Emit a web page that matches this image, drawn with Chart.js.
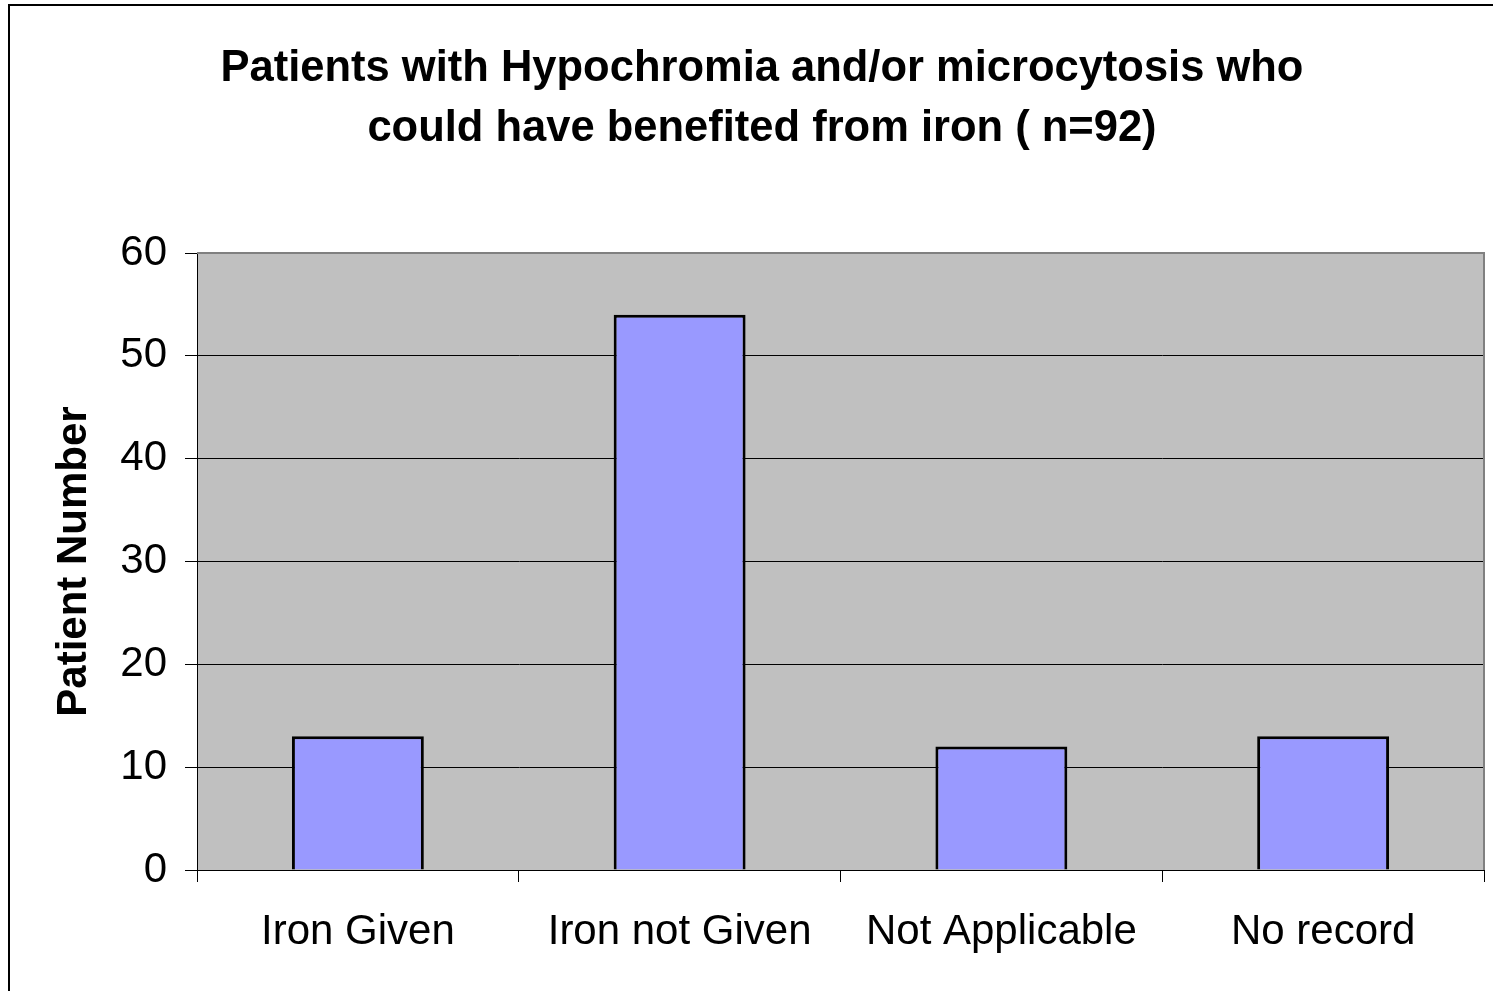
<!DOCTYPE html>
<html>
<head>
<meta charset="utf-8">
<script src="https://cdn.jsdelivr.net/npm/chart.js@4.4.1/dist/chart.umd.min.js"></script>
<style>
  html, body { margin: 0; padding: 0; background: #fff; }
  #wrap { position: relative; width: 1493px; height: 991px; overflow: hidden; }
  #frame { position: absolute; left: 8px; top: 4px; width: 1600px; height: 1100px;
           border-left: 2px solid #000; border-top: 2px solid #000; pointer-events: none; }
</style>
</head>
<body>
<div id="wrap">
  <canvas id="chart" width="1493" height="991"></canvas>
  <div id="frame"></div>
</div>
<script>
// data
const categories = ['Iron Given', 'Iron not Given', 'Not Applicable', 'No record'];
const patients = [13, 54, 12, 13];
const yTicks = [0, 10, 20, 30, 40, 50, 60];
const titleLines = ['Patients with Hypochromia and/or microcytosis who',
                    'could have benefited from iron ( n=92)'];

const FONT = '"Liberation Sans", Arial, sans-serif';

// grey plot background + grey top/right border of the plot area
const plotArea = {
  id: 'plotArea',
  beforeDraw(chart) {
    const { ctx, chartArea: a } = chart;
    ctx.save();
    ctx.fillStyle = '#C0C0C0';
    ctx.fillRect(a.left, a.top, a.right - a.left, a.bottom - a.top);
    ctx.restore();
  },
  afterDatasetsDraw(chart) {
    const { ctx, chartArea: a } = chart;
    ctx.save();
    ctx.strokeStyle = '#808080';
    ctx.lineWidth = 2;
    ctx.beginPath();
    ctx.moveTo(a.left, a.top);
    ctx.lineTo(a.right, a.top);
    ctx.lineTo(a.right, a.bottom);
    ctx.stroke();
    ctx.restore();
  }
};

new Chart(document.getElementById('chart'), {
  type: 'bar',
  data: {
    labels: categories,
    datasets: [{
      data: patients,
      backgroundColor: '#9999FF',
      borderColor: '#000',
      borderWidth: 3,
      barPercentage: 0.41,
      categoryPercentage: 1
    }]
  },
  options: {
    responsive: false,
    animation: false,
    layout: { padding: { left: 40, right: 9, top: 0, bottom: 0 } },
    plugins: {
      legend: { display: false },
      tooltip: { enabled: false },
      title: {
        display: true,
        text: titleLines,
        color: '#000',
        font: { family: FONT, size: 43.5, weight: 'bold', lineHeight: 1.38 },
        padding: { top: 39, bottom: 94 }
      }
    },
    scales: {
      x: {
        grid: { drawOnChartArea: false, drawTicks: true, tickLength: 12, color: '#000', offset: true },
        border: { color: '#000', width: 1 },
        ticks: { color: '#000', font: { family: FONT, size: 42 }, padding: 25, maxRotation: 0 },
        afterFit(scale) { scale.height = 121; }
      },
      y: {
        min: 0,
        max: 60,
        afterBuildTicks(scale) { scale.ticks = yTicks.map(v => ({ value: v })); },
        grid: { color: '#000', lineWidth: 1, tickLength: 12 },
        border: { color: '#000', width: 1 },
        ticks: { color: '#000', font: { family: FONT, size: 42 }, padding: 18 },
        title: {
          display: true,
          text: 'Patient Number',
          color: '#000',
          font: { family: FONT, size: 42, weight: 'bold' },
          padding: { top: 9, bottom: 0 }
        },
        afterFit(scale) { scale.width = 157; }
      }
    }
  },
  plugins: [plotArea]
});
</script>
</body>
</html>
